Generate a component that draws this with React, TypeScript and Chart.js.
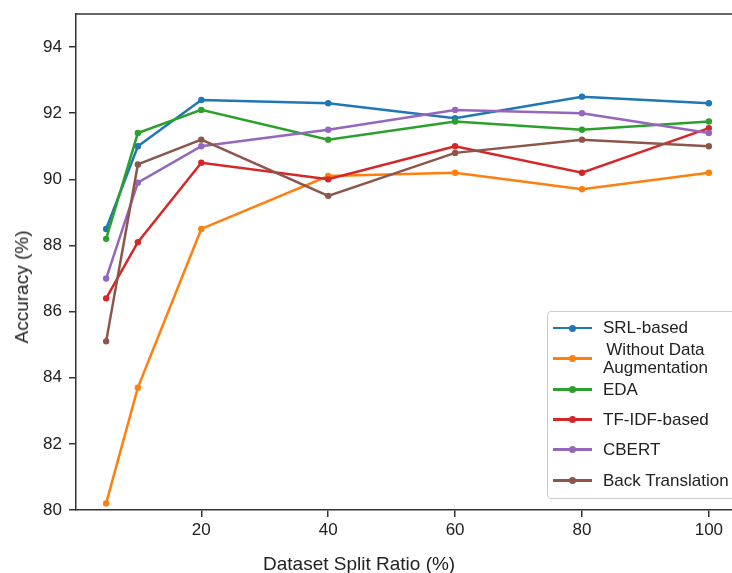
import React, { useEffect, useRef } from "react";
import { Chart, registerables } from "chart.js";

Chart.register(...registerables);

const xValues = [5, 10, 20, 40, 60, 80, 100];
const xTickValues = [20, 40, 60, 80, 100];
const yTickValues = [80, 82, 84, 86, 88, 90, 92, 94];

const seriesNames = [
  "SRL-based",
  "Without Data\nAugmentation",
  "EDA",
  "TF-IDF-based",
  "CBERT",
  "Back Translation",
];
const seriesColors = ["#1f77b4", "#ff7f0e", "#2ca02c", "#d62728", "#9467bd", "#8c564b"];

const srlBased = [88.5, 91.0, 92.4, 92.3, 91.85, 92.5, 92.3];
const withoutAug = [80.2, 83.7, 88.5, 90.1, 90.2, 89.7, 90.2];
const edaValues = [88.2, 91.4, 92.1, 91.2, 91.75, 91.5, 91.75];
const tfidfBased = [86.4, 88.1, 90.5, 90.0, 91.0, 90.2, 91.55];
const cbertValues = [87.0, 89.9, 91.0, 91.5, 92.1, 92.0, 91.4];
const backTranslation = [85.1, 90.45, 91.2, 89.5, 90.8, 91.2, 91.0];

const allSeries = [srlBased, withoutAug, edaValues, tfidfBased, cbertValues, backTranslation];

const FONT = '"Liberation Sans", Arial, Helvetica, sans-serif';
const AXIS_COLOR = "#333";
const TEXT_COLOR = "#222";

const frameTop = {
  id: "frameTop",
  afterDraw(chart: any) {
    const { ctx, chartArea } = chart;
    ctx.save();
    ctx.strokeStyle = AXIS_COLOR;
    ctx.lineWidth = 1.5;
    ctx.beginPath();
    ctx.moveTo(chartArea.left, chartArea.top);
    ctx.lineTo(chartArea.right, chartArea.top);
    ctx.stroke();
    ctx.restore();
  },
};

export default function App() {
  const canvasRef = useRef<HTMLCanvasElement | null>(null);

  useEffect(() => {
    if (!canvasRef.current) return;
    const datasets = allSeries.map((vals, i) => ({
      label: seriesNames[i].replace("\n", " "),
      data: xValues.map((x, j) => ({ x, y: vals[j] })),
      borderColor: seriesColors[i],
      backgroundColor: seriesColors[i],
      pointBackgroundColor: seriesColors[i],
      pointBorderColor: seriesColors[i],
      borderWidth: 2.5,
      pointRadius: 3.2,
      pointBorderWidth: 0,
      tension: 0,
      order: allSeries.length - i,
    }));

    const chart = new Chart(canvasRef.current, {
      type: "line",
      data: { datasets },
      plugins: [frameTop],
      options: {
        responsive: true,
        maintainAspectRatio: false,
        animation: false,
        layout: { padding: { top: 14, left: 0, right: 0, bottom: 0 } },
        plugins: {
          legend: { display: false },
          tooltip: { enabled: false },
        },
        scales: {
          x: {
            type: "linear",
            min: 0.25,
            max: 104.75,
            afterBuildTicks: (s: any) => {
              s.ticks = xTickValues.map((v) => ({ value: v }));
            },
            afterFit: (s: any) => {
              s.height = 63;
              s.paddingLeft = 0;
              s.paddingRight = 0;
            },
            grid: {
              drawOnChartArea: false,
              drawTicks: true,
              tickLength: 7,
              color: AXIS_COLOR,
              lineWidth: 1.5,
            },
            border: { display: true, color: AXIS_COLOR, width: 1.5 },
            ticks: {
              font: { family: FONT, size: 17 },
              color: TEXT_COLOR,
              padding: 3,
              maxRotation: 0,
              autoSkip: false,
            },
          },
          y: {
            type: "linear",
            min: 80,
            max: 95,
            afterBuildTicks: (s: any) => {
              s.ticks = yTickValues.map((v) => ({ value: v }));
            },
            afterFit: (s: any) => {
              s.width = 76;
              s.paddingTop = 0;
              s.paddingBottom = 0;
            },
            grid: {
              drawOnChartArea: false,
              drawTicks: true,
              tickLength: 7,
              color: AXIS_COLOR,
              lineWidth: 1.5,
            },
            border: { display: true, color: AXIS_COLOR, width: 1.5 },
            ticks: {
              font: { family: FONT, size: 17 },
              color: TEXT_COLOR,
              padding: 7,
              autoSkip: false,
            },
          },
        },
      },
    });
    return () => chart.destroy();
  }, []);

  const rowHeights = [30, 31, 31, 29, 31, 31];

  return (
    <div
      style={{
        position: "absolute",
        left: 0,
        top: 0,
        width: 732,
        height: 573,
        overflow: "hidden",
        background: "#fff",
        fontFamily: FONT,
      }}
    >
      <div style={{ position: "absolute", left: 0, top: 0, width: 743, height: 573 }}>
        <canvas ref={canvasRef} />
      </div>

      <div
        style={{
          position: "absolute",
          left: 22,
          top: 287,
          transform: "translate(-50%, -50%) rotate(-90deg)",
          whiteSpace: "nowrap",
          fontSize: 19,
          color: TEXT_COLOR,
        }}
      >
        Accuracy (%)
      </div>

      <div
        style={{
          position: "absolute",
          left: 263,
          top: 554,
          whiteSpace: "nowrap",
          fontSize: 19,
          lineHeight: "20px",
          color: TEXT_COLOR,
        }}
      >
        Dataset Split Ratio (%)
      </div>

      <div
        style={{
          position: "absolute",
          left: 547,
          top: 311,
          width: 200,
          height: 188,
          border: "1px solid #ccc",
          borderRadius: 4,
          background: "rgba(255,255,255,0.85)",
          boxSizing: "border-box",
          paddingTop: 1,
        }}
      >
        {seriesNames.map((name, i) => (
          <div
            key={name}
            style={{
              position: "relative",
              height: rowHeights[i],
              display: "flex",
              alignItems: "center",
            }}
          >
            <div
              style={{
                position: "absolute",
                left: 5,
                top: "50%",
                width: 39,
                height: 2.5,
                marginTop: -1.25,
                background: seriesColors[i],
              }}
            />
            <div
              style={{
                position: "absolute",
                left: 21,
                top: "50%",
                width: 7,
                height: 7,
                marginTop: -3.5,
                borderRadius: "50%",
                background: seriesColors[i],
              }}
            />
            <div
              style={{
                position: "absolute",
                left: 55,
                top: "50%",
                transform: "translateY(-50%)",
                fontSize: 17,
                lineHeight: "18px",
                color: TEXT_COLOR,
                whiteSpace: "pre",
                textAlign: "center",
              }}
            >
              {name}
            </div>
          </div>
        ))}
      </div>
    </div>
  );
}
